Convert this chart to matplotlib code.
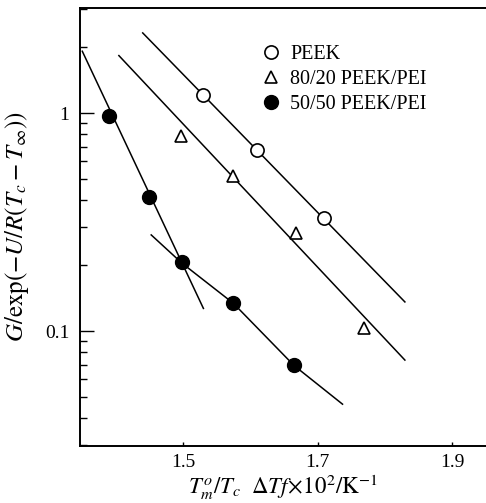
import matplotlib
matplotlib.use('Agg')
import matplotlib.pyplot as plt

# crystal growth rate plot, PEEK and PEEK/PEI blends

plt.rcParams['font.family'] = ['Liberation Serif', 'DejaVu Serif']
plt.rcParams['mathtext.fontset'] = 'stix'
plt.rcParams['font.size'] = 13

peek_x = [1.530, 1.610, 1.710]
peek_y = [1.21, 0.674, 0.329]
b8020_x = [1.4975, 1.574, 1.668, 1.769]
b8020_y = [0.781, 0.515, 0.281, 0.103]
b5050_x = [1.390, 1.449, 1.4985, 1.575, 1.665]
b5050_y = [0.972, 0.411, 0.207, 0.135, 0.0698]

# fitted lines
peek_fit_x = [1.4404, 1.8296]
peek_fit_y = [2.33, 0.136]
b8020_fit_x = [1.405, 1.8296]
b8020_fit_y = [1.834, 0.0736]
b5050_steep_x = [1.3507, 1.5305]
b5050_steep_y = [1.92, 0.127]
b5050_curve_x = [1.453, 1.4985, 1.575, 1.665, 1.737]
b5050_curve_y = [0.276, 0.205, 0.134, 0.0695, 0.0462]

fig = plt.figure(figsize=(4.86, 5.03), dpi=100)
ax = fig.add_axes([0.1656, 0.1133, 0.8344, 0.8707])

lw = 1.1
ax.plot(peek_fit_x, peek_fit_y, color='black', lw=lw)
ax.plot(b8020_fit_x, b8020_fit_y, color='black', lw=lw)
ax.plot(b5050_steep_x, b5050_steep_y, color='black', lw=lw)
ax.plot(b5050_curve_x, b5050_curve_y, color='black', lw=lw)

ax.plot(peek_x, peek_y, 'o', ms=9.5, mfc='white', mec='black', mew=1.2,
        ls='none', label='PEEK', zorder=3)
ax.plot(b8020_x, b8020_y, '^', ms=9, mfc='white', mec='black', mew=1.2,
        ls='none', label='80/20 PEEK/PEI', zorder=3)
ax.plot(b5050_x, b5050_y, 'o', ms=10, mfc='black', mec='black',
        ls='none', label='50/50 PEEK/PEI', zorder=3)

ax.set_yscale('log')
ax.set_xlim(1.348, 1.95)
ax.set_ylim(0.0297, 3.03)
ax.set_xticks([1.5, 1.7, 1.9])
ax.set_xticklabels(['1.5', '1.7', '1.9'])
ax.set_yticks([0.1, 1])
ax.set_yticklabels(['0.1', '1'])
ax.tick_params(axis='both', which='both', direction='in', labelsize=14)
ax.tick_params(axis='y', which='major', length=10, width=1, pad=8)
ax.tick_params(axis='y', which='minor', length=5, width=1)
ax.tick_params(axis='x', which='major', length=3, width=1, pad=6)
ax.tick_params(axis='x', which='minor', length=0)
ax.spines['right'].set_visible(False)
for s in ['left', 'bottom', 'top']:
    ax.spines[s].set_linewidth(1.4)

ax.set_xlabel(r'$T_m^o/T_c\ \ \mathit{\Delta} Tf\!\times\!10^2/\mathrm{K}^{-1}$', fontsize=16.5, labelpad=1)
ax.set_ylabel(r'$G/\mathrm{exp}(-U/R(T_c-T_\infty))$', fontsize=18, labelpad=10)

ax.legend(loc='upper left', bbox_to_anchor=(0.425, 0.935), frameon=False,
          handlelength=1.0, handletextpad=0.45, labelspacing=0.3,
          borderaxespad=0, fontsize=14.5)

plt.savefig('out.png', dpi=100)
